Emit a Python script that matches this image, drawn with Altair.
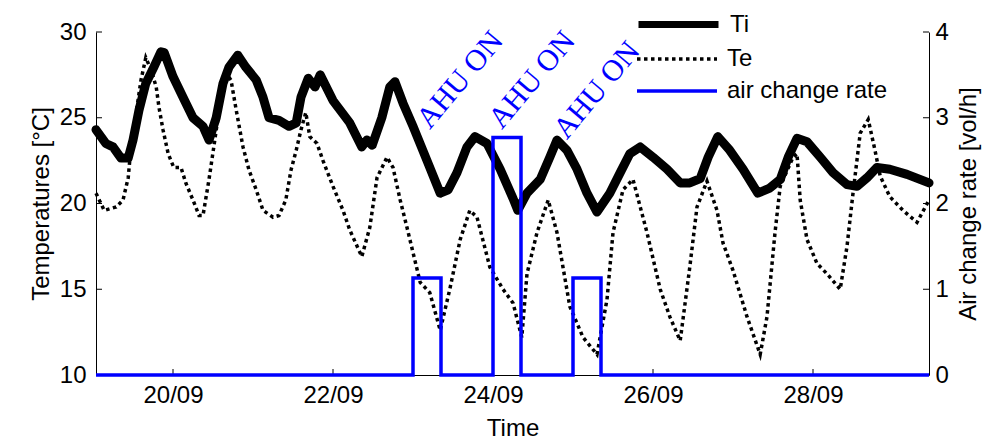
import altair as alt
import pandas as pd

# ---------------- data ----------------
ti_day = [19.0375, 19.16, 19.25, 19.35, 19.44, 19.5, 19.575, 19.66, 19.76, 19.85, 19.89,
          20.0, 20.125, 20.25, 20.375, 20.45, 20.54, 20.625, 20.7, 20.81, 20.91, 21.04,
          21.125, 21.2, 21.325, 21.45, 21.54, 21.6, 21.69, 21.775, 21.84, 22.0, 22.21,
          22.36, 22.425, 22.49, 22.61, 22.71, 22.775, 22.875, 23.0, 23.175, 23.34, 23.44,
          23.55, 23.675, 23.775, 23.925, 24.09, 24.25, 24.31, 24.425, 24.59, 24.71, 24.8,
          24.925, 25.05, 25.175, 25.3, 25.46, 25.59, 25.71, 25.84, 26.0, 26.175, 26.34,
          26.46, 26.59, 26.69, 26.81, 26.96, 27.125, 27.31, 27.46, 27.59, 27.69, 27.8,
          27.925, 28.09, 28.25, 28.425, 28.55, 28.675, 28.8, 28.96, 29.175, 29.45]
ti_temp = [24.3, 23.5, 23.3, 22.65, 22.65, 23.7, 25.45, 27.0, 27.95, 28.85, 28.8,
           27.4, 26.2, 25.0, 24.5, 23.7, 25.0, 27.0, 27.95, 28.65, 27.95, 27.2,
           26.2, 25.0, 24.85, 24.5, 24.7, 26.2, 27.3, 26.8, 27.5, 26.0, 24.7,
           23.3, 23.7, 23.4, 25.0, 26.8, 27.1, 25.85, 24.5, 22.5, 20.6, 20.8,
           21.8, 23.3, 23.9, 23.5, 22.0, 20.3, 19.6, 20.6, 21.4, 22.7, 23.7,
           23.1, 22.0, 20.6, 19.5, 20.6, 21.8, 22.9, 23.3, 22.7, 22.0, 21.2,
           21.2, 21.45, 22.7, 23.9, 23.1, 22.0, 20.6, 20.9, 21.4, 22.7, 23.8,
           23.6, 22.7, 21.8, 21.1, 21.0, 21.5, 22.1, 22.0, 21.7, 21.2]

te_day = [19.0375, 19.14, 19.29, 19.375, 19.44, 19.475, 19.54, 19.6, 19.66, 19.725, 19.79,
          19.825, 19.875, 19.94, 20.01, 20.1, 20.16, 20.25, 20.325, 20.375, 20.45, 20.51,
          20.6, 20.66, 20.725, 20.79, 20.875, 20.95, 21.04, 21.125, 21.25, 21.325, 21.41,
          21.475, 21.54, 21.6, 21.66, 21.71, 21.8, 21.875, 22.0, 22.125, 22.21, 22.36,
          22.46, 22.55, 22.675, 22.75, 22.84, 22.925, 23.09, 23.21, 23.34, 23.46, 23.59,
          23.71, 23.8, 23.96, 24.125, 24.25, 24.36, 24.425, 24.55, 24.69, 24.8, 24.96,
          25.125, 25.3, 25.425, 25.5, 25.625, 25.75, 25.925, 26.09, 26.21, 26.34, 26.46,
          26.55, 26.675, 26.8, 26.875, 27.0, 27.175, 27.34, 27.425, 27.525, 27.59, 27.75,
          27.8, 27.84, 27.925, 28.05, 28.175, 28.34, 28.425, 28.5, 28.59, 28.69, 28.775,
          28.84, 28.96, 29.125, 29.3, 29.45]
te_temp = [20.6, 19.6, 19.8, 20.2, 21.5, 23.3, 25.3, 27.2, 28.5, 27.8, 26.8,
           25.6, 24.3, 22.9, 22.1, 22.1, 21.2, 20.2, 19.3, 19.3, 21.4, 23.3,
           26.2, 27.6, 27.2, 25.45, 23.3, 21.95, 20.8, 19.6, 19.2, 19.3, 20.2,
           21.95, 23.1, 24.3, 25.3, 23.9, 23.5, 22.5, 21.0, 19.6, 18.45, 16.9,
           18.6, 21.5, 22.7, 22.1, 20.2, 18.6, 15.4, 14.8, 12.6, 15.0, 17.9,
           19.6, 19.2, 16.3, 15.0, 14.2, 12.2, 15.9, 18.3, 20.2, 18.3, 14.0,
           12.2, 11.2, 14.4, 18.3, 20.8, 21.4, 18.3, 15.0, 13.4, 12.0, 16.3,
           19.8, 21.3, 19.6, 17.7, 16.1, 13.4, 11.2, 13.4, 18.3, 21.0, 22.7,
           22.9, 20.2, 17.9, 16.5, 15.9, 15.0, 17.5, 20.6, 24.1, 24.9, 23.1,
           21.6, 20.4, 19.6, 18.9, 20.2]

acr_day = [19.0375, 23.0, 23.35, 24.0, 24.35, 25.0, 25.35, 29.45]
acr_rate = [0, 1.13, 0, 2.77, 0, 1.13, 0, 0]

ahu_day = [23.59, 24.49, 25.30]
ahu_temp = [27.2, 27.2, 26.6]
ahu_text = ["AHU ON", "AHU ON", "AHU ON"]

x_domain = [19.0375, 29.45]
x_tick_values = [20, 22, 24, 26, 28]
x_tick_labels = ["20/09", "22/09", "24/09", "26/09", "28/09"]
temp_ticks = [10, 15, 20, 25, 30]
rate_ticks = [0, 1, 2, 3, 4]

# ---------------- tables ----------------
ti_df = pd.DataFrame({"day": ti_day, "T": ti_temp, "series": "Ti"})
te_df = pd.DataFrame({"day": te_day, "T": te_temp, "series": "Te"})
acr_df = pd.DataFrame({"day": acr_day, "rate": acr_rate, "series": "air change rate"})
ahu_df = pd.DataFrame({"day": ahu_day, "T": ahu_temp, "label": ahu_text})
xt_df = pd.DataFrame({"day": x_tick_values})
tt_df = pd.DataFrame({"T": temp_ticks})
rt_df = pd.DataFrame({"rate": rate_ticks})

W, H, TICK = 833, 343, 6
FONT = "Liberation Sans"
label_expr = " : ".join(
    f"datum.value == {v} ? '{l}'" for v, l in zip(x_tick_values, x_tick_labels)
) + " : ''"

x_scale = alt.Scale(domain=x_domain, nice=False, zero=False)
x_enc = alt.X(
    "day:Q",
    scale=x_scale,
    axis=alt.Axis(
        values=x_tick_values, labelExpr=label_expr, title="Time",
        grid=False, domainColor="black", ticks=False, tickSize=0,
        labelPadding=8, titlePadding=9,
        labelFont=FONT, labelFontSize=24, labelColor="black", labelFontWeight="normal",
        titleFont=FONT, titleFontSize=24, titleColor="black", titleFontWeight="normal",
    ),
)

temp_scale = alt.Scale(domain=[10, 30], nice=False, zero=False)
temp_axis = alt.Axis(
    values=temp_ticks, title="Temperatures [°C]", orient="left",
    grid=False, domainColor="black", ticks=False, tickSize=0,
    labelPadding=10, titlePadding=6,
    labelFont=FONT, labelFontSize=24, labelColor="black",
    titleFont=FONT, titleFontSize=24, titleColor="black", titleFontWeight="normal",
)
rate_scale = alt.Scale(domain=[0, 4], nice=False, zero=False)
rate_axis = alt.Axis(
    values=rate_ticks, title="Air change rate [vol/h]", orient="right",
    grid=False, domainColor="black", ticks=False, tickSize=0,
    labelPadding=6, titlePadding=32, titleAngle=270,
    labelFont=FONT, labelFontSize=24, labelColor="black",
    titleFont=FONT, titleFontSize=24, titleColor="black", titleFontWeight="normal",
)


def leg(x, y, width, dash=None):
    kw = dict(
        orient="none", legendX=x, legendY=y, title=None, padding=0,
        symbolType="stroke", symbolSize=6400, symbolStrokeWidth=width,
        labelFont=FONT, labelFontSize=24, labelColor="black", labelOffset=8,
        labelLimit=400,
    )
    if dash is not None:
        kw["symbolDash"] = dash
    return alt.Legend(**kw)


ti = alt.Chart(ti_df).mark_line(strokeWidth=9, strokeCap="round", strokeJoin="round").encode(
    x=x_enc,
    y=alt.Y("T:Q", scale=temp_scale, axis=temp_axis),
    color=alt.Color("series:N", scale=alt.Scale(domain=["Ti"], range=["black"]),
                    legend=leg(539, -51, 7)),
)

te = alt.Chart(te_df).mark_line(strokeWidth=3.5, strokeDash=[3.5, 3.5]).encode(
    x=x_enc,
    y=alt.Y("T:Q", scale=temp_scale, axis=temp_axis),
    color=alt.Color("series:N", scale=alt.Scale(domain=["Te"], range=["black"]),
                    legend=leg(539, -15, 3.5, [3.5, 3.5])),
)

ahu = alt.Chart(ahu_df).mark_text(
    font="Liberation Serif", fontSize=30, color="#0000ff", angle=310,
    align="center", baseline="middle",
).encode(
    x=x_enc,
    y=alt.Y("T:Q", scale=temp_scale, axis=temp_axis),
    text="label:N",
)

# inward ticks (MATLAB style), positioned by the scales
left_ticks = alt.Chart(tt_df).mark_rule(color="black", strokeWidth=1).encode(
    y=alt.Y("T:Q", scale=temp_scale, axis=temp_axis),
    x=alt.value(0), x2=alt.value(TICK),
)
bottom_ticks = alt.Chart(xt_df).mark_rule(color="black", strokeWidth=1).encode(
    x=x_enc,
    y=alt.value(H), y2=alt.value(H - TICK),
)

acr = alt.Chart(acr_df).mark_line(strokeWidth=3.5, interpolate="step-after").encode(
    x=x_enc,
    y=alt.Y("rate:Q", scale=rate_scale, axis=rate_axis),
    color=alt.Color("series:N", scale=alt.Scale(domain=["air change rate"], range=["#0000ff"]),
                    legend=leg(539, 17, 3.5)),
)
right_ticks = alt.Chart(rt_df).mark_rule(color="black", strokeWidth=1).encode(
    y=alt.Y("rate:Q", scale=rate_scale, axis=rate_axis),
    x=alt.value(W), x2=alt.value(W - TICK),
)

left = alt.layer(left_ticks, bottom_ticks, ti, te, ahu).resolve_scale(color="independent")
right = alt.layer(right_ticks, acr).resolve_scale(color="independent")
chart = alt.layer(left, right).resolve_scale(y="independent", color="independent").properties(
    width=W, height=H,
    autosize=alt.AutoSizeParams(type="none"),
    padding={"left": 88, "top": 24, "right": 62, "bottom": 65},
    background="white",
).configure_view(stroke=None)

chart.save("out.html", embed_options={"renderer": "svg", "actions": False})
